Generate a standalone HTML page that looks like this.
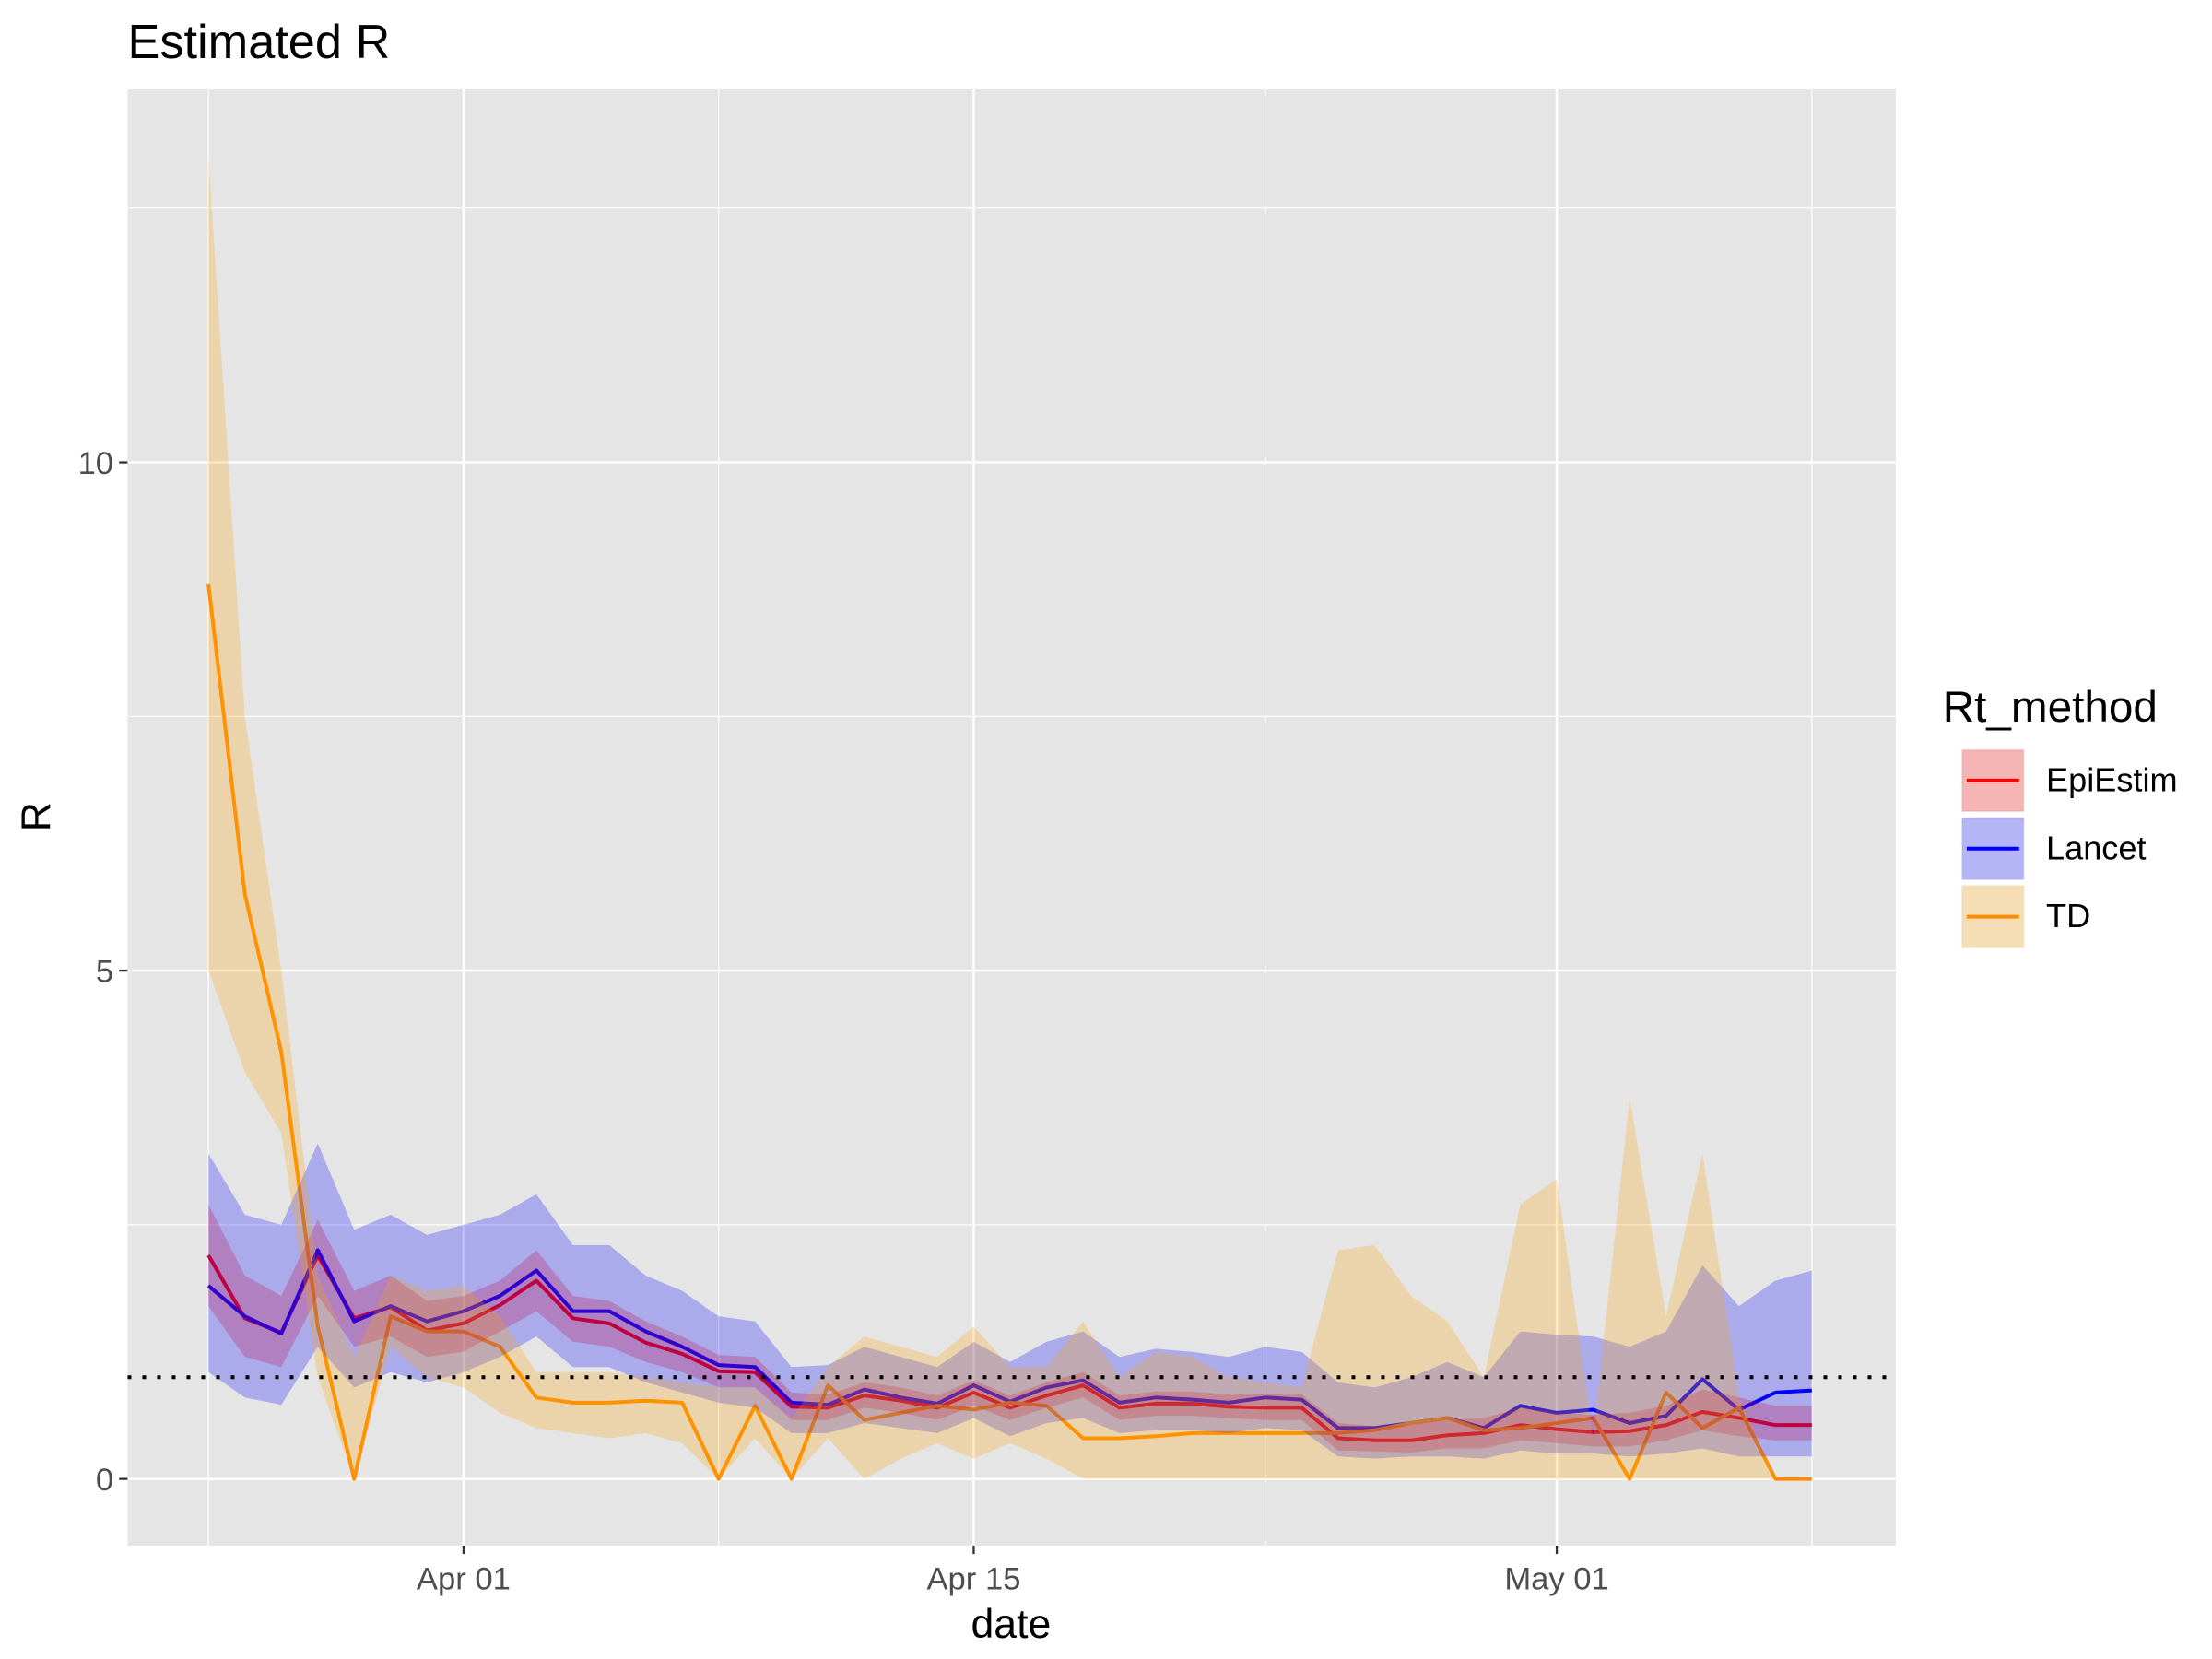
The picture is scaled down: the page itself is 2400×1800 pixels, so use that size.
<!DOCTYPE html>
<html><head><meta charset="utf-8"><style>
html,body{margin:0;padding:0;background:#fff;}
svg{display:block;font-family:"Liberation Sans",Arial,sans-serif;}
</style></head><body>
<svg id="chart" width="2400" height="1800" viewBox="0 0 1560 1170" xmlns="http://www.w3.org/2000/svg">
<rect x="0" y="0" width="1560" height="1170" fill="#fff"/>
<text x="90" y="41" font-size="34" fill="#000">Estimated R</text>
<rect x="90" y="63" width="1247" height="1027" fill="#e5e5e5"/>
<g id="grid"></g>
<g id="marks"></g>
<g id="axes"></g>
<text x="713" y="1155" font-size="29" text-anchor="middle" fill="#000">date</text>
<text transform="translate(35,576) rotate(-90)" font-size="29" text-anchor="middle" fill="#000">R</text>
<g>
<text x="1370" y="509" font-size="31" fill="#000">Rt_method</text>
<g id="legend-keys"></g>
</g>
</svg>
<script>
const NS="http://www.w3.org/2000/svg";
const startDay=0; // Mar 25 = day 0
const tickLabels=["Apr 01","Apr 15","May 01"];
const tickDays=[7,21,37];
const yTicks=[0,5,10];
const epiMean=[2.2,1.58,1.44,2.2,1.58,1.69,1.46,1.53,1.71,1.95,1.58,1.53,1.34,1.23,1.06,1.05,0.71,0.7,0.82,0.77,0.7,0.85,0.7,0.82,0.92,0.7,0.74,0.74,0.71,0.7,0.7,0.4,0.38,0.38,0.43,0.45,0.53,0.49,0.46,0.47,0.53,0.66,0.6,0.53,0.53];
const epiUpper=[2.7,2.0,1.8,2.55,1.85,2.0,1.75,1.8,1.95,2.25,1.8,1.75,1.55,1.4,1.22,1.2,0.85,0.83,0.95,0.9,0.82,0.97,0.82,0.95,1.05,0.82,0.86,0.86,0.83,0.83,0.83,0.55,0.52,0.53,0.58,0.6,0.7,0.65,0.63,0.65,0.72,0.88,0.8,0.72,0.72];
const epiLower=[1.7,1.2,1.1,1.8,1.3,1.4,1.2,1.25,1.45,1.65,1.35,1.3,1.15,1.05,0.9,0.9,0.58,0.58,0.7,0.65,0.58,0.72,0.58,0.7,0.8,0.58,0.62,0.62,0.6,0.58,0.58,0.28,0.27,0.26,0.3,0.3,0.38,0.35,0.32,0.32,0.38,0.48,0.42,0.38,0.38];
const lanMean=[1.9,1.6,1.43,2.25,1.55,1.7,1.55,1.65,1.8,2.05,1.65,1.65,1.45,1.3,1.12,1.1,0.75,0.73,0.88,0.8,0.74,0.92,0.76,0.9,0.97,0.75,0.8,0.78,0.75,0.8,0.78,0.5,0.5,0.55,0.6,0.5,0.72,0.65,0.68,0.55,0.62,0.98,0.68,0.85,0.87];
const lanUpper=[3.2,2.6,2.5,3.3,2.45,2.6,2.4,2.5,2.6,2.8,2.3,2.3,2.0,1.85,1.6,1.55,1.1,1.12,1.3,1.2,1.1,1.35,1.15,1.35,1.45,1.2,1.28,1.25,1.2,1.3,1.25,0.95,0.9,1.0,1.15,1.0,1.45,1.42,1.4,1.3,1.45,2.1,1.7,1.95,2.05];
const lanLower=[1.05,0.8,0.73,1.3,0.9,1.05,0.95,1.05,1.2,1.4,1.1,1.1,0.95,0.85,0.75,0.7,0.45,0.45,0.55,0.5,0.45,0.6,0.42,0.55,0.6,0.45,0.48,0.48,0.45,0.5,0.48,0.22,0.2,0.22,0.22,0.2,0.28,0.25,0.25,0.22,0.25,0.3,0.22,0.22,0.22];
const tdMean=[8.8,5.75,4.2,1.5,0,1.6,1.45,1.45,1.3,0.8,0.75,0.75,0.77,0.75,0,0.72,0,0.92,0.58,0.65,0.72,0.68,0.75,0.72,0.4,0.4,0.42,0.45,0.45,0.45,0.45,0.45,0.48,0.55,0.6,0.48,0.5,0.55,0.6,0,0.85,0.5,0.7,0,0];
const tdUpper=[13.0,7.5,5.0,2.0,1.2,2.0,1.85,1.9,1.6,1.05,1.05,1.05,1.0,0.95,0.9,0.9,0.6,1.1,1.4,1.3,1.2,1.5,1.1,1.1,1.55,1.0,1.25,1.2,1.0,0.95,0.9,2.25,2.3,1.8,1.55,1.0,2.7,2.95,0.4,3.75,1.6,3.2,0.8,0,0];
const tdLower=[5.0,4.0,3.4,1.0,0,1.3,1.0,0.9,0.65,0.5,0.45,0.4,0.45,0.35,0,0.4,0,0.4,0,0.2,0.35,0.2,0.35,0.2,0,0,0,0,0,0,0,0,0,0,0,0,0,0,0,0,0,0,0,0,0];
const refLine=1;

function xs(d){return 147+25.7*(d-startDay);}
function ys(v){return 1043-71.7*v;}
function mk(tag,attrs,parent){const e=document.createElementNS(NS,tag);for(const k in attrs)e.setAttribute(k,attrs[k]);parent.appendChild(e);return e;}

const grid=document.getElementById('grid');
[2.5,7.5,12.5].forEach(v=>{const l=mk('line',{x1:90,x2:1337,y1:ys(v),y2:ys(v),stroke:'#fff','stroke-width':0.8},grid);

});
[0,14,29,44].forEach(d=>{const l=mk('line',{x1:xs(d),x2:xs(d),y1:63,y2:1090,stroke:'#fff','stroke-width':0.8},grid);

});
yTicks.forEach(v=>{const l=mk('line',{x1:90,x2:1337,y1:ys(v),y2:ys(v),stroke:'#fff','stroke-width':1.6},grid);

});
tickDays.forEach(d=>{const l=mk('line',{x1:xs(d),x2:xs(d),y1:63,y2:1090,stroke:'#fff','stroke-width':1.6},grid);

});

const marks=document.getElementById('marks');
function linePath(arr){return arr.map((v,i)=>(i?'L':'M')+xs(i).toFixed(1)+','+ys(v).toFixed(1)).join('');}
function ribbonPath(lo,hi){let p=hi.map((v,i)=>(i?'L':'M')+xs(i).toFixed(1)+','+ys(v).toFixed(1)).join('');
for(let i=lo.length-1;i>=0;i--)p+='L'+xs(i).toFixed(1)+','+ys(lo[i]).toFixed(1);return p+'Z';}
const series=[
 {name:'epiestim',mean:epiMean,lo:epiLower,hi:epiUpper,line:'#ff0000',fill:'#ff0000'},
 {name:'lancet',mean:lanMean,lo:lanLower,hi:lanUpper,line:'#0000ff',fill:'#0000ff'},
 {name:'td',mean:tdMean,lo:tdLower,hi:tdUpper,line:'#ff8c00',fill:'#ffa500'}];
series.forEach(s=>{const p=mk('path',{d:linePath(s.mean),fill:'none',stroke:s.line,'stroke-width':2.6,'stroke-linejoin':'round'},marks);

});
series.forEach(s=>{const p=mk('path',{d:ribbonPath(s.lo,s.hi),fill:s.fill,'fill-opacity':0.25,stroke:'none'},marks);

});
const rl=mk('line',{x1:90,x2:1337,y1:ys(refLine),y2:ys(refLine),stroke:'#000','stroke-width':2.6,'stroke-dasharray':'2.6,7.8'},marks);



const axes=document.getElementById('axes');
yTicks.forEach(v=>{const t=mk('line',{x1:84,x2:90,y1:ys(v),y2:ys(v),stroke:'#333','stroke-width':1.5},axes);


const tx=mk('text',{x:80,y:ys(v)+8,'font-size':22.5,'text-anchor':'end',fill:'#4d4d4d'},axes);tx.textContent=v;

});
tickDays.forEach((d,i)=>{const t=mk('line',{x1:xs(d),x2:xs(d),y1:1090,y2:1096,stroke:'#333','stroke-width':1.5},axes);


const tx=mk('text',{x:xs(d),y:1121,'font-size':22.5,'text-anchor':'middle',fill:'#4d4d4d'},axes);tx.textContent=tickLabels[i];

});

const lk=document.getElementById('legend-keys');
const legNames=['EpiEstim','Lancet','TD'];
series.forEach((s,i)=>{const y=528+48*i;
const g=mk('g',{},lk);


mk('rect',{x:1383,y:y,width:45,height:45,fill:'#f2f2f2'},g);
mk('rect',{x:1384,y:y+1,width:43,height:43,fill:s.fill,'fill-opacity':0.25,stroke:s.fill,'stroke-opacity':0.1},g);
mk('line',{x1:1387,x2:1424,y1:y+22.5,y2:y+22.5,stroke:s.line,'stroke-width':2.6},g);
const t=mk('text',{x:1443,y:y+30,'font-size':23.5,fill:'#000'},g);t.textContent=legNames[i];});
</script>
</body></html>
